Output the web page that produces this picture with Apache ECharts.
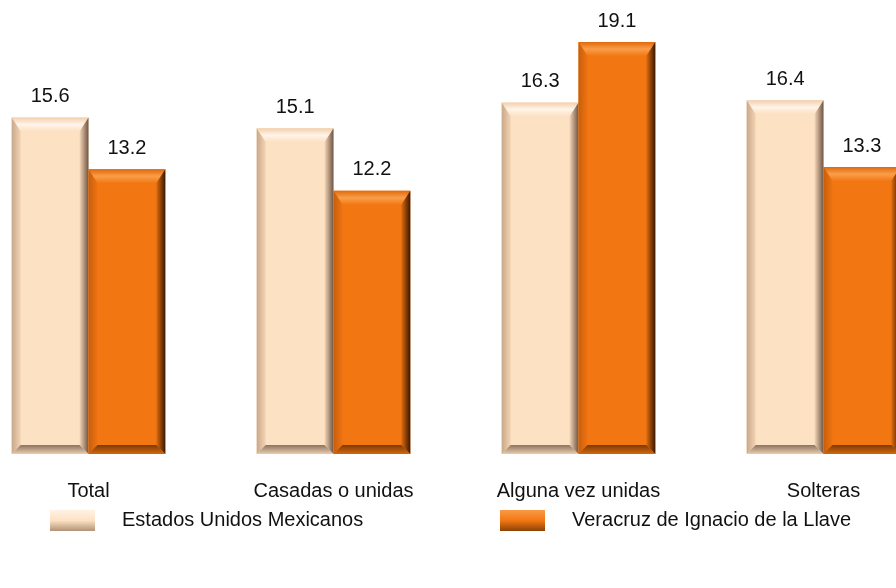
<!DOCTYPE html>
<html lang="es">
<head>
  <meta charset="utf-8">
  <title>echarts-bar</title>
  <script src="https://cdn.jsdelivr.net/npm/echarts@6/dist/echarts.min.js"></script>
</head>
<body style="height: 100%; margin: 0">
<div id="main" style="width: 896px; height: 588px"></div>

<script type="text/javascript">
  var categories = ['Total', 'Casadas o unidas', 'Alguna vez unidas', 'Solteras'];
  var nacional = [15.6, 15.1, 16.3, 16.4];
  var veracruz = [13.2, 12.2, 19.1, 13.3];
  var seriesNames = ['Estados Unidos Mexicanos', 'Veracruz de Ignacio de la Llave'];

  // colores del bisel
  var bevelColors = [
    {body: '#FDE1C3', top: ['#F2CFAD', '#FFF4E8', '#FCE0C2'], left: ['#C9A888', '#F2D4B5'], right: ['#F5D7B8', '#6E5543'], bottom: ['#8C7360', '#E9CDB0']},
    {body: '#F27712', top: ['#E06A0C', '#FA9E4A', '#F27712'], left: ['#C85E0A', '#EE7412'], right: ['#E06C10', '#3A1802'], bottom: ['#7A3A06', '#D4690F']}
  ];

  function grad(x2, y2, cols) {
    var stops = cols.map(function (col, i) { return {offset: i / (cols.length - 1), color: col}; });
    return new echarts.graphic.LinearGradient(0, 0, x2, y2, stops);
  }

  function bevelBar(side) {
    return function (params, api) {
      var idx = api.value(0);
      var val = api.value(1);
      var top = api.coord([idx, val]);
      var base = api.coord([idx, 0]);
      var band = api.size([1, 0])[0];
      var w = band * 0.3135;
      var x0 = side === 0 ? top[0] - w : top[0];
      var y0 = top[1], y1 = base[1], b = 9, bt = 14;
      var c = bevelColors[side];
      return {
        type: 'group',
        children: [
          {type: 'rect', shape: {x: x0, y: y0, width: w, height: y1 - y0}, style: {fill: c.body}},
          {type: 'polygon', shape: {points: [[x0, y0], [x0 + w, y0], [x0 + w - b, y0 + bt], [x0 + b, y0 + bt]]}, style: {fill: grad(0, 1, c.top)}},
          {type: 'polygon', shape: {points: [[x0, y0], [x0 + b, y0 + bt], [x0 + b, y1 - b], [x0, y1]]}, style: {fill: grad(1, 0, c.left)}},
          {type: 'polygon', shape: {points: [[x0 + w, y0], [x0 + w, y1], [x0 + w - b, y1 - b], [x0 + w - b, y0 + bt]]}, style: {fill: grad(1, 0, c.right)}},
          {type: 'polygon', shape: {points: [[x0, y1], [x0 + b, y1 - b], [x0 + w - b, y1 - b], [x0 + w, y1]]}, style: {fill: grad(0, 1, c.bottom)}},
          {type: 'text', style: {text: val.toFixed(1), x: x0 + w / 2, y: y0 - 21, align: 'center', verticalAlign: 'middle',
            fontSize: 20, fontFamily: 'Liberation Sans, Arial', fill: '#111'}}
        ]
      };
    };
  }

  var mychart1 = echarts.init(document.getElementById('main'));

  mychart1.setOption({
    animation: false,
    grid: {left: -34, right: -50, top: 22.6, bottom: 134, outerBoundsMode: 'none'},
    legend: [
      {data: [seriesNames[0]], left: 45, top: 505, icon: 'rect', itemWidth: 45, itemHeight: 21,
        textStyle: {fontSize: 20, color: '#111', fontFamily: 'Liberation Sans, Arial', padding: [0, 0, 0, 22]}},
      {data: [seriesNames[1]], left: 495, top: 505, icon: 'rect', itemWidth: 45, itemHeight: 21,
        textStyle: {fontSize: 20, color: '#111', fontFamily: 'Liberation Sans, Arial', padding: [0, 0, 0, 22]}}
    ],
    xAxis: {
      type: 'category',
      data: categories,
      axisLine: {show: false},
      axisTick: {show: false},
      axisLabel: {margin: 27, fontSize: 20, color: '#111', fontFamily: 'Liberation Sans, Arial'}
    },
    yAxis: {
      type: 'value',
      min: 0,
      max: 20,
      show: false,
      splitLine: {show: false}
    },
    series: [
      {
        name: seriesNames[0],
        type: 'custom',
        renderItem: bevelBar(0),
        encode: {x: 0, y: 1},
        itemStyle: {color: grad(0, 1, ['#FFF2E4', '#FDE1C3', '#B39276'])},
        data: nacional.map(function (v, i) { return [i, v]; })
      },
      {
        name: seriesNames[1],
        type: 'custom',
        renderItem: bevelBar(1),
        encode: {x: 0, y: 1},
        itemStyle: {color: grad(0, 1, ['#F99A45', '#F27712', '#8A4207'])},
        data: veracruz.map(function (v, i) { return [i, v]; })
      }
    ]
  });

  window.addEventListener('resize', mychart1.resize);
</script>
</body>
</html>
